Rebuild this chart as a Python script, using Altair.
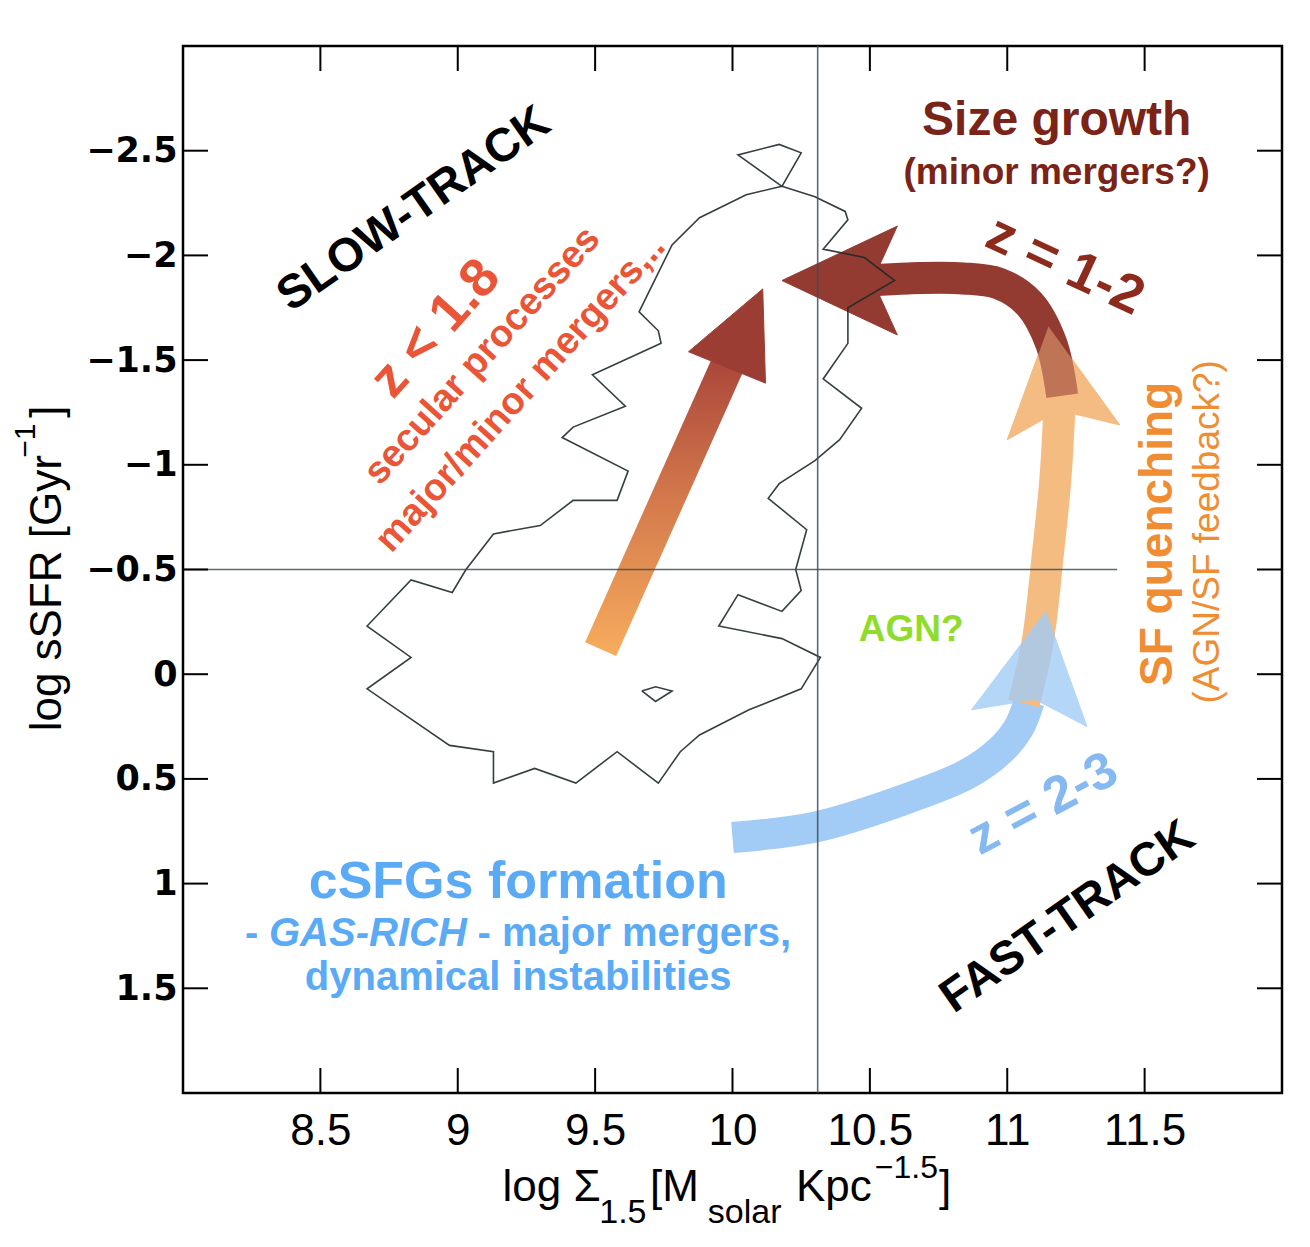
import altair as alt
import pandas as pd

# ---------------- data ----------------
x_ticks = [8.5, 9.0, 9.5, 10.0, 10.5, 11.0, 11.5]
y_ticks = [-2.5, -2.0, -1.5, -1.0, -0.5, 0.0, 0.5, 1.0, 1.5]

# density contour (outline)
contour_x = [10.18, 10.30, 10.41, 10.42, 10.33, 10.48, 10.59, 10.42, 10.42, 10.33, 10.47, 10.39,
             10.30, 10.17, 10.13, 10.27, 10.23, 10.25, 10.18, 10.02, 9.95, 10.18, 10.32, 10.25,
             10.06, 9.88, 9.81, 9.73, 9.58, 9.43, 9.28, 9.13, 9.13, 8.97, 8.67, 8.83, 8.67, 8.83,
             8.98, 9.03, 9.13, 9.30, 9.42, 9.58, 9.62, 9.38, 9.42, 9.61, 9.49, 9.74, 9.73, 9.66,
             9.72, 9.78, 9.88, 10.05, 10.18]
contour_y = [-2.33, -2.28, -2.21, -2.17, -2.03, -1.99, -1.88, -1.75, -1.58, -1.41, -1.27, -1.12,
             -1.02, -0.91, -0.84, -0.69, -0.50, -0.40, -0.30, -0.38, -0.23, -0.17, -0.08, 0.07,
             0.17, 0.29, 0.37, 0.52, 0.37, 0.52, 0.45, 0.52, 0.37, 0.34, 0.07, -0.08, -0.23, -0.45,
             -0.39, -0.50, -0.67, -0.71, -0.83, -0.83, -0.97, -1.13, -1.18, -1.28, -1.43, -1.58, -1.64,
             -1.73, -1.89, -2.05, -2.18, -2.29, -2.33]
toploop_x = [10.18, 10.02, 10.17, 10.25, 10.18]
toploop_y = [-2.33, -2.48, -2.53, -2.49, -2.33]
island_x = [9.67, 9.72, 9.78, 9.72, 9.67]
island_y = [0.08, 0.06, 0.08, 0.13, 0.08]

# slow-track arrow
slow_shaft_x = [9.52, 10.00]
slow_shaft_y = [-0.12, -1.53]
slow_head_x = [10.11, 9.84, 10.12, 10.11]
slow_head_y = [-1.84, -1.54, -1.39, -1.84]

# fast-track arrows
blue_shaft_x = [10.00, 10.30, 10.60, 10.85, 10.97, 11.04, 11.08]
blue_shaft_y = [0.78, 0.73, 0.61, 0.48, 0.37, 0.26, 0.13]
blue_head_x = [11.14, 10.87, 11.10, 11.29, 11.14]
blue_head_y = [-0.30, 0.17, 0.12, 0.25, -0.30]

orange_shaft_x = [11.06, 11.11, 11.15, 11.175, 11.19]
orange_shaft_y = [0.14, -0.15, -0.60, -0.93, -1.27]
orange_head_x = [11.15, 11.00, 11.19, 11.41, 11.15]
orange_head_y = [-1.66, -1.12, -1.26, -1.19, -1.66]

brown_shaft_x = [11.20, 11.16, 11.08, 10.97, 10.84, 10.64, 10.50]
brown_shaft_y = [-1.33, -1.58, -1.77, -1.865, -1.89, -1.89, -1.88]
brown_head_x = [10.18, 10.60, 10.51, 10.60, 10.18]
brown_head_y = [-1.88, -2.14, -1.88, -1.62, -1.88]

# reference lines
vline_x = [10.31]
hline_y = [-0.5]
hline_x_start = [8.0]
hline_x_end = [11.40]

# annotations
ann_text = ["SLOW-TRACK", "z < 1.8", "secular processes", "major/minor mergers,..",
            "Size growth", "(minor mergers?)", "z = 1-2", "AGN?", "SF quenching",
            "(AGN/SF feedback?)", "z = 2-3", "cSFGs formation", "-", "GAS-RICH",
            "- major mergers,", "dynamical instabilities", "FAST-TRACK"]
ann_x = [8.84, 8.92, 9.09, 9.23, 11.18, 11.18, 11.21, 10.65, 11.55, 11.73, 11.13, 9.22,
         8.226, 8.313, 9.072, 9.22, 11.22]
ann_y = [-2.22, -1.65, -1.52, -1.34, -2.64, -2.395, -1.95, -0.21, -0.67, -0.68, 0.62, 0.99,
         1.24, 1.24, 1.24, 1.45, 1.16]

# axis title pieces
xt_text = ["log Σ", "1.5", "[M", "solar", "Kpc", "−1.5", "]"]
xt_x = [9.163, 9.515, 9.70, 9.91, 10.231, 10.518, 10.752]
xt_y = [2.454, 2.574, 2.454, 2.574, 2.454, 2.359, 2.454]
yt_text = ["log sSFR [Gyr", "−1", "]"]
yt_x = [7.51, 7.43, 7.51]
yt_y = [0.273, -1.115, -1.254]

# ---------------- chart ----------------
W, H = 1099, 1047
FONT = "Liberation Sans"

SX = alt.Scale(domain=[8, 12], nice=False, zero=False)
SY = alt.Scale(domain=[-3, 2], nice=False, zero=False, reverse=True)
X_AXIS = alt.Axis(values=x_ticks, format="~g", labelFont=FONT,
                  labelFontSize=44, labelColor="black", labelPadding=16, ticks=False,
                  tickSize=0, domain=False, grid=False, title=None)
Y_AXIS = alt.Axis(values=y_ticks, format="~g", labelFont="DejaVu Sans", labelFontWeight="bold",
                  labelFontSize=35, labelColor="black", labelPadding=6, ticks=False,
                  tickSize=0, domain=False, grid=False, title=None)


def X():
    return alt.X("x:Q", scale=SX, axis=X_AXIS)


def Y():
    return alt.Y("y:Q", scale=SY, axis=Y_AXIS)


def pts(xs, ys):
    return pd.DataFrame({"x": xs, "y": ys, "i": list(range(len(xs)))})


def path(xs, ys, **mark):
    return alt.Chart(pts(xs, ys)).mark_line(**mark).encode(x=X(), y=Y(), order="i:Q")


def label(k, **mark):
    df = pd.DataFrame({"x": [ann_x[k]], "y": [ann_y[k]], "t": [ann_text[k]]})
    return alt.Chart(df).mark_text(**mark).encode(x=X(), y=Y(), text="t:N")


def piece(t, x, y, **mark):
    df = pd.DataFrame({"x": [x], "y": [y], "t": [t]})
    return alt.Chart(df).mark_text(**mark).encode(x=X(), y=Y(), text="t:N")


BLUE = "#a2ccf6"
ORANGE = "#f5bc82"
BROWN = "#933a31"

slow_grad = alt.LinearGradient(
    gradient="linear",
    stops=[alt.GradientStop(color="#f5aa5c", offset=0),
           alt.GradientStop(color="#d47a4c", offset=0.5),
           alt.GradientStop(color="#a8443a", offset=1)],
    x1=0, y1=1, x2=0, y2=0)

layers = []
# arrows
layers.append(path(blue_shaft_x, blue_shaft_y, stroke=BLUE, strokeWidth=31,
                   strokeCap="butt", strokeJoin="round", interpolate="catmull-rom"))
layers.append(path(orange_shaft_x, orange_shaft_y, stroke=ORANGE, strokeWidth=32,
                   strokeCap="butt", strokeJoin="round", interpolate="catmull-rom"))
layers.append(path(blue_head_x, blue_head_y, fill=BLUE, stroke=BLUE, strokeWidth=1,
                   opacity=0.8))
layers.append(path(orange_head_x, orange_head_y, fill=ORANGE, stroke=ORANGE, strokeWidth=1))
layers.append(path(brown_shaft_x, brown_shaft_y, stroke=BROWN, strokeWidth=32,
                   strokeCap="butt", strokeJoin="round", interpolate="catmull-rom"))
# re-draw orange head translucently so its overlap with the brown shaft shows a mixed tone
layers.append(path(orange_head_x, orange_head_y, fill=ORANGE, stroke=ORANGE, strokeWidth=0,
                   opacity=0.45))
layers.append(path(brown_head_x, brown_head_y, fill=BROWN, stroke=BROWN, strokeWidth=1))
layers.append(path(slow_shaft_x, slow_shaft_y, stroke=slow_grad, strokeWidth=34,
                   strokeCap="butt"))
layers.append(path(slow_head_x, slow_head_y, fill="#9c3d33", stroke="#9c3d33", strokeWidth=1))

# contour
for cx, cy in [(contour_x, contour_y), (toploop_x, toploop_y), (island_x, island_y)]:
    layers.append(path(cx, cy, stroke="#1f2a2e", strokeWidth=1.6, opacity=0.9))

# reference lines
layers.append(alt.Chart(pd.DataFrame({"x": vline_x})).mark_rule(
    color="#3f4f55", strokeWidth=1.6, opacity=0.85).encode(x=X()))
layers.append(alt.Chart(pd.DataFrame({"y": hline_y, "x": hline_x_start, "x2": hline_x_end}))
              .mark_rule(color="#3f4f55", strokeWidth=1.6, opacity=0.85)
              .encode(y=Y(), x=X(), x2="x2:Q"))

# annotations
BOLD = dict(font=FONT, fontWeight="bold", align="center", baseline="middle")
layers.append(label(0, fontSize=47, angle=325, color="black", **BOLD))
layers.append(label(1, fontSize=54, angle=312, color="#eb5537", **BOLD))
layers.append(label(2, fontSize=38, angle=312, color="#eb5537", **BOLD))
layers.append(label(3, fontSize=38, angle=312, color="#eb5537", **BOLD))
layers.append(label(4, fontSize=48, color="#7a2316", **BOLD))
layers.append(label(5, fontSize=37, color="#7a2316", **BOLD))
layers.append(label(6, fontSize=54, angle=25, color="#8c2b1c", **BOLD))
layers.append(label(7, fontSize=37, color="#8fdc2a", **BOLD))
layers.append(label(8, fontSize=46, angle=270, color="#f08c32", **BOLD))
layers.append(label(9, fontSize=37, angle=270, color="#f08c32", font=FONT,
                    align="center", baseline="middle"))
layers.append(label(10, fontSize=52, angle=332, color="#86b8f2", **BOLD))
layers.append(label(11, fontSize=52, color="#5aaaf5", **BOLD))
LEFTB = dict(font=FONT, fontWeight="bold", align="left", baseline="middle",
             fontSize=40, color="#5aaaf5")
layers.append(label(12, **LEFTB))
layers.append(label(13, fontStyle="italic", **LEFTB))
layers.append(label(14, **LEFTB))
layers.append(label(15, fontSize=40, color="#5aaaf5", **BOLD))
layers.append(label(16, fontSize=47, angle=325, color="black", **BOLD))

# axis titles built from pieces (sub/superscripts)
xt_sizes = [44, 34, 44, 34, 44, 32, 44]
for t, x, y, s in zip(xt_text, xt_x, xt_y, xt_sizes):
    layers.append(piece(t, x, y, font=FONT, fontSize=s, color="black",
                        align="left", baseline="middle"))
yt_sizes = [44, 30, 44]
yt_align = ["left", "center", "center"]
for t, x, y, s, a in zip(yt_text, yt_x, yt_y, yt_sizes, yt_align):
    layers.append(piece(t, x, y, font=FONT, fontSize=s, color="black",
                        align=a, baseline="middle", angle=270))

# inward ticks on all four sides
xtdf = pd.DataFrame({"x": x_ticks})
ytdf = pd.DataFrame({"y": y_ticks})
TK = dict(color="black", strokeWidth=2)
layers.append(alt.Chart(xtdf).mark_rule(**TK).encode(x=X(), y=alt.value(0), y2=alt.value(25)))
layers.append(alt.Chart(xtdf).mark_rule(**TK).encode(x=X(), y=alt.value(H), y2=alt.value(H - 25)))
layers.append(alt.Chart(ytdf).mark_rule(**TK).encode(y=Y(), x=alt.value(0), x2=alt.value(25)))
layers.append(alt.Chart(ytdf).mark_rule(**TK).encode(y=Y(), x=alt.value(W), x2=alt.value(W - 25)))

chart = (
    alt.layer(*layers)
    .properties(width=W, height=H,
                padding={"left": 175, "top": 38, "right": 20, "bottom": 140},
                autosize=alt.AutoSizeParams(type="none"), background="white")
    .configure_view(stroke="black", strokeWidth=2.5)
)

chart.save("out.html", embed_options={"renderer": "svg", "actions": False})
